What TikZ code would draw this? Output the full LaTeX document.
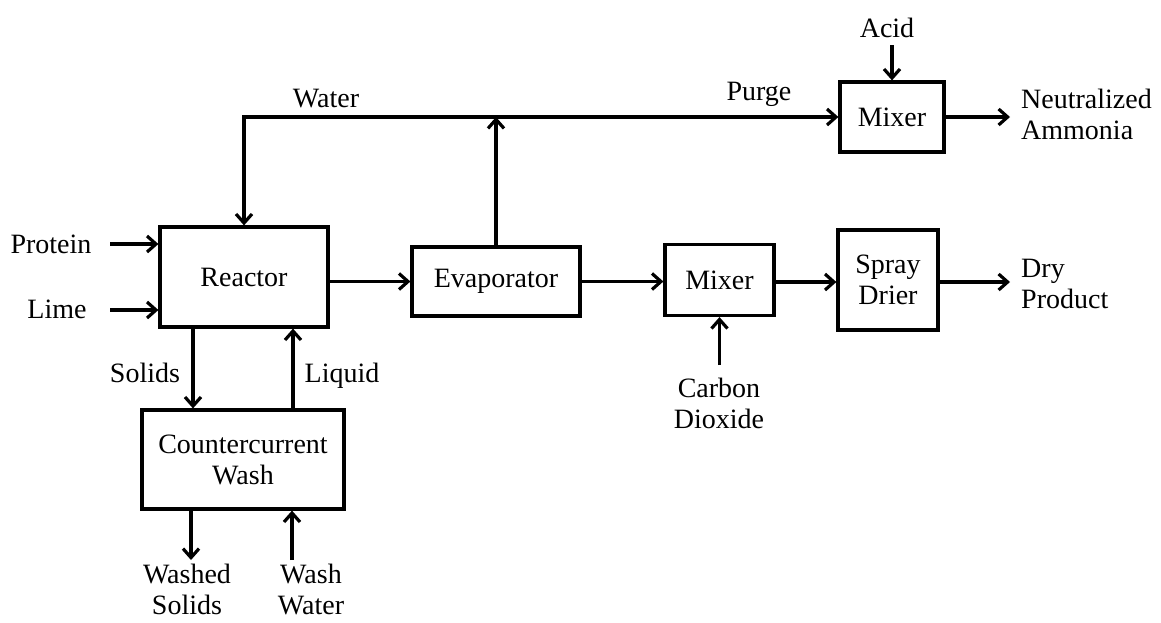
\documentclass[tikz,border=0pt]{standalone}
\usepackage{fontspec}
\setmainfont{Liberation Serif}
\usetikzlibrary{arrows.meta}
\begin{document}
\begin{tikzpicture}[x=1pt,y=-1pt,
  every node/.style={font=\fontsize{28}{31}\selectfont},
  box/.style={draw, line width=3.2pt, inner sep=0pt, align=center},
  lab/.style={inner sep=0pt, align=center},
  flow/.style={line width=3.2pt, -{Straight Barb[length=9pt,width=16pt]}}]
\useasboundingbox (0,0) rectangle (1161,622);
% boxes
\node[box, minimum width=168pt, minimum height=100pt] (reactor) at (244,277) {Reactor};
\node[box, minimum width=168pt, minimum height=69pt] (evap) at (496,281.5) {Evaporator};
\node[box, minimum width=109pt, minimum height=71pt] (mix1) at (719.5,280) {Mixer};
\node[box, minimum width=100pt, minimum height=100pt] (spray) at (888,280) {Spray\\Drier};
\node[box, minimum width=104pt, minimum height=70pt] (mix2) at (892,117) {Mixer};
\node[box, minimum width=202pt, minimum height=99pt] (wash) at (243,459.5) {Countercurrent\\Wash};
% labels
\node[lab, anchor=base] (protein) at (51,253) {Protein};
\node[lab, anchor=base] (lime) at (57,318) {Lime};
\node[lab, anchor=base] (water) at (326,107) {Water};
\node[lab, anchor=base] (purge) at (759,100) {Purge};
\node[lab, anchor=base] (acid) at (887,37) {Acid};
\node[lab, anchor=base] (solids) at (145,382) {Solids};
\node[lab, anchor=base] (liquid) at (342,382) {Liquid};
\node[lab, anchor=north] (washed) at (187,564) {Washed\\Solids};
\node[lab, anchor=north] (washwater) at (311,564) {Wash\\Water};
\node[lab, anchor=north] (co2) at (719,378) {Carbon\\Dioxide};
\node[lab, anchor=west, align=left] (neut) at (1021,114) {Neutralized\\Ammonia};
\node[lab, anchor=west, align=left] (dry) at (1021,284) {Dry\\Product};
% free ends
\coordinate (pA) at (110,244);
\coordinate (lA) at (110,310);
\coordinate (acidA) at (892,45);
\coordinate (junc) at (evap.north |- mix2.west);
\coordinate (wcorner) at (reactor.north |- mix2.west);
\coordinate (sol) at ([xshift=-51pt]reactor.south);
\coordinate (liq) at ([xshift=49pt]reactor.south);
\coordinate (wsA) at (191,560);
\coordinate (wwA) at (292,560);
\coordinate (coA) at (mix1.south |- 0,365);
\coordinate (neutA) at (1010,117);
\coordinate (dryA) at (1010,282);
% connectors
\draw[flow] (pA) -- (pA -| reactor.west);
\draw[flow] (lA) -- (lA -| reactor.west);
\draw[flow] (reactor.east |- evap.west) -- (evap.west);
\draw[flow] (evap.east) -- (evap.east -| mix1.west);
\draw[flow] (mix1.east |- 0,282) -- (spray.west |- 0,282);
\draw[flow] (spray.east |- 0,282) -- (dryA);
\draw[flow] (evap.north) -- (junc);
\draw[flow] (junc) -- (mix2.west);
\draw[flow, line join=miter] (junc) -- (wcorner) -- (reactor.north);
\draw[flow] (acidA) -- (mix2.north);
\draw[flow] (mix2.east) -- (neutA);
\draw[flow] (sol) -- (sol |- wash.north);
\draw[flow] (liq |- wash.north) -- (liq);
\draw[flow] (wsA |- wash.south) -- (wsA);
\draw[flow] (wwA) -- (wwA |- wash.south);
\draw[flow] (coA) -- (mix1.south);
\end{tikzpicture}
\end{document}
